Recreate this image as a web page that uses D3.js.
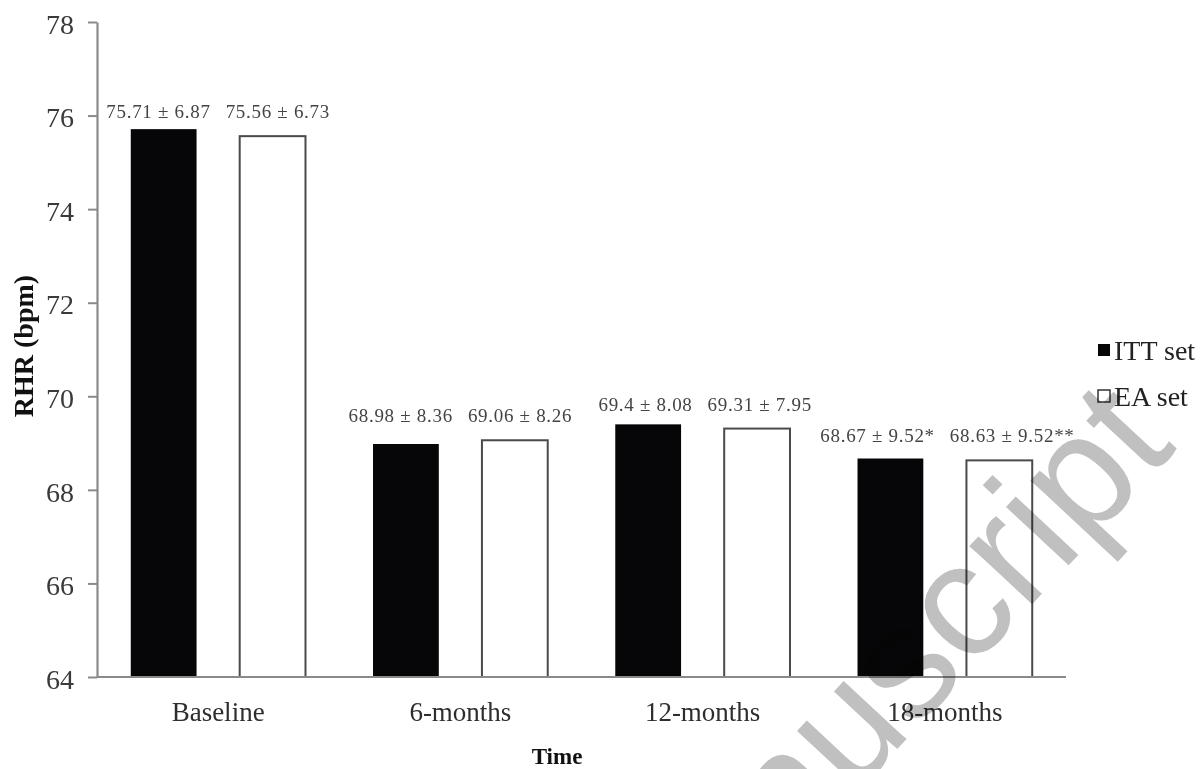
<!DOCTYPE html>
<html>
<head>
<meta charset="utf-8">
<script src="https://cdn.jsdelivr.net/npm/d3@7"></script>
<style>
  html, body { margin: 0; padding: 0; background: #fff; }
  svg { display: block; }
  .serif { font-family: "Liberation Serif", "Times New Roman", serif; }
</style>
</head>
<body>
<svg id="chart" width="1202" height="769"></svg>
<script>
// Resting heart rate by visit, ITT vs EA analysis sets
const timepoints = ["Baseline", "6-months", "12-months", "18-months"];
const ittMean = [75.71, 68.98, 69.4, 68.67];
const ittSD   = [6.87, 8.36, 8.08, 9.52];
const ittSig  = ["", "", "", "*"];
const eaMean  = [75.56, 69.06, 69.31, 68.63];
const eaSD    = [6.73, 8.26, 7.95, 9.52];
const eaSig   = ["", "", "", "**"];
const setNames = ["ITT set", "EA set"];
const yTicks = [64, 66, 68, 70, 72, 74, 76, 78];

const svg = d3.select("#chart");
const plot = { left: 97, right: 1066, top: 22, bottom: 677 };

const y = d3.scaleLinear().domain([64, 78]).range([plot.bottom, plot.top]);
const x = d3.scaleBand().domain(timepoints).range([plot.left, plot.right]).padding(0);
const xs = d3.scaleBand().domain(setNames).range([0, x.bandwidth()])
  .paddingInner(0.396).paddingOuter(0.31);

const rows = timepoints.map((t, i) => ({
  t,
  sets: [
    { set: setNames[0], mean: ittMean[i], sd: ittSD[i], sig: ittSig[i] },
    { set: setNames[1], mean: eaMean[i], sd: eaSD[i], sig: eaSig[i] }
  ],
  eaMean: eaMean[i]
}));

// y axis
const yAxis = svg.append("g")
  .attr("transform", `translate(${plot.left},0)`)
  .call(d3.axisLeft(y).tickValues(yTicks).tickSize(9).tickSizeOuter(0).tickPadding(14));
yAxis.select(".domain").attr("stroke", "#8a8a8a").attr("stroke-width", 2.2);
yAxis.selectAll(".tick line").attr("stroke", "#8a8a8a").attr("stroke-width", 2);
yAxis.selectAll(".tick text")
  .attr("class", "serif")
  .attr("font-size", 28)
  .attr("fill", "#3a3a3a")
  .attr("dy", "0.4em");

// bars
const groups = svg.append("g").selectAll("g").data(rows).join("g")
  .attr("transform", d => `translate(${x(d.t)},0)`);

groups.selectAll("rect").data(d => d.sets).join("rect")
  .attr("x", d => xs(d.set))
  .attr("width", xs.bandwidth())
  .attr("y", d => y(d.mean))
  .attr("height", d => y(64) - y(d.mean))
  .attr("fill", d => d.set === setNames[0] ? "#060608" : "#ffffff")
  .attr("stroke", d => d.set === setNames[0] ? "none" : "#4a4a4a")
  .attr("stroke-width", 2);

// mean ± SD labels, one row per timepoint; pairs that collide are pushed apart
const labelGap = 15;
groups.each(function(d) {
  const g = d3.select(this);
  const labels = g.selectAll("text.val").data(d.sets).join("text")
    .attr("class", "val serif")
    .attr("x", s => xs(s.set) + xs.bandwidth() / 2)
    .attr("y", y(d.eaMean) - 18)
    .attr("text-anchor", "middle")
    .attr("font-size", 19)
    .attr("letter-spacing", 0.7)
    .attr("fill", "#444")
    .text(s => `${s.mean} \u00b1 ${s.sd}${s.sig}`);
  const nodes = labels.nodes();
  const w0 = nodes[0].getComputedTextLength(), w1 = nodes[1].getComputedTextLength();
  const c0 = +nodes[0].getAttribute("x"), c1 = +nodes[1].getAttribute("x");
  const overlap = (c0 + w0 / 2 + labelGap) - (c1 - w1 / 2);
  if (overlap > 0) {
    nodes[0].setAttribute("x", c0 - overlap / 2);
    nodes[1].setAttribute("x", c1 + overlap / 2);
  }
});

// x axis baseline and category labels
svg.append("line")
  .attr("x1", plot.left).attr("x2", plot.right)
  .attr("y1", plot.bottom).attr("y2", plot.bottom)
  .attr("stroke", "#8a8a8a").attr("stroke-width", 2.2);

const xAxis = svg.append("g")
  .attr("transform", `translate(0,${plot.bottom})`)
  .call(d3.axisBottom(x).tickSize(0).tickPadding(0));
xAxis.select(".domain").remove();
xAxis.selectAll(".tick text")
  .attr("class", "serif")
  .attr("font-size", 27)
  .attr("fill", "#2e2e2e")
  .attr("y", 44)
  .attr("dy", 0);

// axis titles
svg.append("text")
  .attr("class", "serif")
  .attr("x", 557).attr("y", 764)
  .attr("text-anchor", "middle")
  .attr("font-size", 23).attr("font-weight", "bold")
  .attr("fill", "#111")
  .text("Time");

svg.append("text")
  .attr("class", "serif")
  .attr("transform", "translate(33,346) rotate(-90)")
  .attr("text-anchor", "middle")
  .attr("font-size", 28).attr("font-weight", "bold")
  .attr("fill", "#111")
  .text("RHR  (bpm)");

// legend
const legend = svg.append("g").attr("transform", "translate(1098,0)");
const legendRows = [
  { name: setNames[0], cy: 350, fill: "#060608", stroke: "none" },
  { name: setNames[1], cy: 396, fill: "#ffffff", stroke: "#333" }
];
legend.selectAll("rect").data(legendRows).join("rect")
  .attr("x", 0).attr("y", d => d.cy - 6)
  .attr("width", 12).attr("height", 12)
  .attr("fill", d => d.fill).attr("stroke", d => d.stroke).attr("stroke-width", 1.5);
legend.selectAll("text").data(legendRows).join("text")
  .attr("class", "serif")
  .attr("x", 16).attr("y", d => d.cy + 10)
  .attr("font-size", 28)
  .attr("fill", "#222")
  .text(d => d.name);

// diagonal watermark
svg.append("text")
  .attr("transform", "translate(1178,448) rotate(-47)")
  .attr("text-anchor", "end")
  .attr("font-family", "Liberation Sans, Arial, sans-serif")
  .attr("font-size", 162)
  .attr("fill", "#c0c0c0")
  .style("mix-blend-mode", "multiply")
  .text("Manuscript");
</script>
</body>
</html>
